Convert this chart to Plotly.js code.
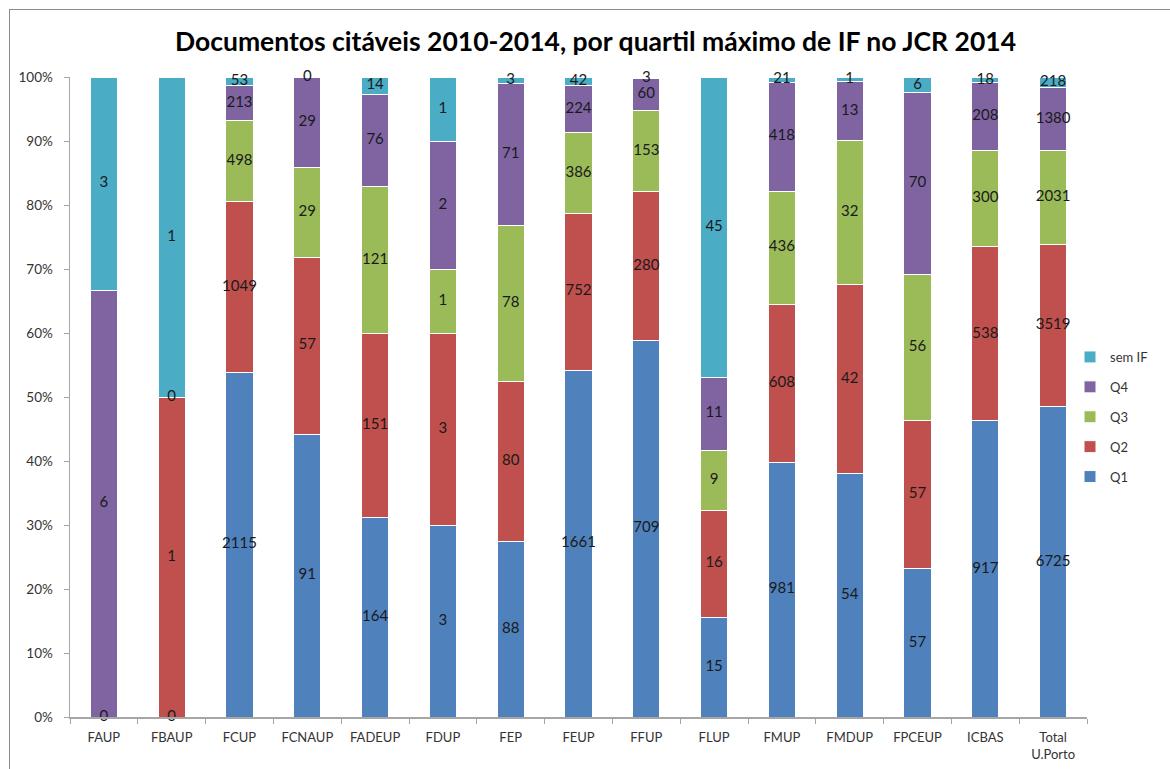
<!DOCTYPE html>
<html>
<head>
<meta charset="utf-8">
<script src="https://cdn.plot.ly/plotly-3.0.1.min.js"></script>
<style>
  html, body { margin: 0; padding: 0; background: #fff; }
  #frame { position: absolute; left: 9px; top: 9px; width: 1200px; height: 800px;
           border-left: 1.5px solid #8c8c8c; border-top: 1.5px solid #8c8c8c; }
  #chart { position: absolute; left: 0; top: 0; width: 1170px; height: 769px; }
</style>
</head>
<body>
<div id="frame"></div>
<div id="chart"></div>
<script>
const categories = ["FAUP","FBAUP","FCUP","FCNAUP","FADEUP","FDUP","FEP","FEUP","FFUP","FLUP","FMUP","FMDUP","FPCEUP","ICBAS","Total<br>U.Porto"];
const q1    = [0,    0,    2115, 91, 164, 3, 88, 1661, 709, 15, 981, 54, 57, 917, 6725];
const q2    = [null, 1,    1049, 57, 151, 3, 80, 752,  280, 16, 608, 42, 57, 538, 3519];
const q3    = [null, null, 498,  29, 121, 1, 78, 386,  153, 9,  436, 32, 56, 300, 2031];
const q4    = [6,    0,    213,  29, 76,  2, 71, 224,  60,  11, 418, 13, 70, 208, 1380];
const semIF = [3,    1,    53,   0,  14,  1, 3,  42,   3,   45, 21,  1,  6,  18,  218];

const seriesNames = ["Q1","Q2","Q3","Q4","sem IF"];
const seriesData = [q1, q2, q3, q4, semIF];
const colors = ["#4F81BD","#C0504D","#9BBB59","#8064A2","#4BACC6"];

const traces = [];
seriesData.forEach((vals, i) => {
  traces.push({
    type: 'bar', name: seriesNames[i], x: categories, y: vals,
    marker: {color: colors[i], line: {color: '#ffffff', width: 1}},
    legendgroup: 'g' + i, legendrank: 10 - i, hoverinfo: 'skip'
  });
});

// label positions: middle of each stacked segment in percent
const totals = categories.map((c, j) => seriesData.reduce((s, a) => s + (a[j] || 0), 0));
const cum = categories.map(() => 0);
seriesData.forEach((vals, i) => {
  const ys = [], ts = [];
  vals.forEach((v, j) => {
    if (v === null) { ys.push(null); ts.push(''); return; }
    const p = v / totals[j] * 100;
    ys.push(cum[j] + p / 2);
    ts.push(String(v));
    cum[j] += p;
  });
  traces.push({
    type: 'scatter', mode: 'text', x: categories, y: ys, text: ts,
    textposition: 'middle center',
    textfont: {family: 'Lato, "Liberation Sans", sans-serif', size: 15, color: '#1a1a1a'},
    showlegend: false, hoverinfo: 'skip', cliponaxis: false
  });
});

const layout = {
  width: 1170, height: 769,
  margin: {l: 70, r: 83, t: 77, b: 52, autoexpand: false},
  paper_bgcolor: 'rgba(0,0,0,0)', plot_bgcolor: 'rgba(0,0,0,0)',
  barmode: 'stack', barnorm: 'percent', bargap: 0.6,
  font: {family: 'Lato, "Liberation Sans", sans-serif', size: 13, color: '#333'},
  title: {
    text: '<b>Documentos citáveis 2010-2014, por quartil máximo de IF no JCR 2014</b>',
    font: {family: 'Lato, "Liberation Sans", sans-serif', size: 26.5, color: '#000'},
    xref: 'container', x: 0.509, xanchor: 'center',
    yref: 'container', y: 1 - 42/769, yanchor: 'middle'
  },
  xaxis: {
    automargin: false, range: [-0.5, categories.length - 0.5],
    showline: true, linecolor: '#a6a6a6', linewidth: 1.5,
    ticks: 'outside', tickson: 'boundaries', ticklen: 5, tickcolor: '#a6a6a6',
    ticklabelstandoff: 8,
    showgrid: false, tickfont: {size: 13, color: '#333'}, fixedrange: true
  },
  yaxis: {
    automargin: false,
    range: [0, 100], dtick: 10, ticksuffix: '%',
    showline: true, linecolor: '#a6a6a6', linewidth: 1.5,
    ticks: 'outside', ticklen: 5, tickcolor: '#a6a6a6',
    ticklabelstandoff: 8,
    showgrid: false, zeroline: false, tickfont: {size: 13.5, color: '#333'}, fixedrange: true
  },
  legend: {
    xref: 'container', yref: 'container',
    x: 1070/1170, xanchor: 'left', y: 1 - 417/769, yanchor: 'middle',
    traceorder: 'grouped', tracegroupgap: 10, itemwidth: 30,
    font: {size: 13, color: '#333'}, bgcolor: 'rgba(0,0,0,0)'
  },
  showlegend: true
};

Plotly.newPlot('chart', traces, layout, {displayModeBar: false, staticPlot: true});
</script>
</body>
</html>
